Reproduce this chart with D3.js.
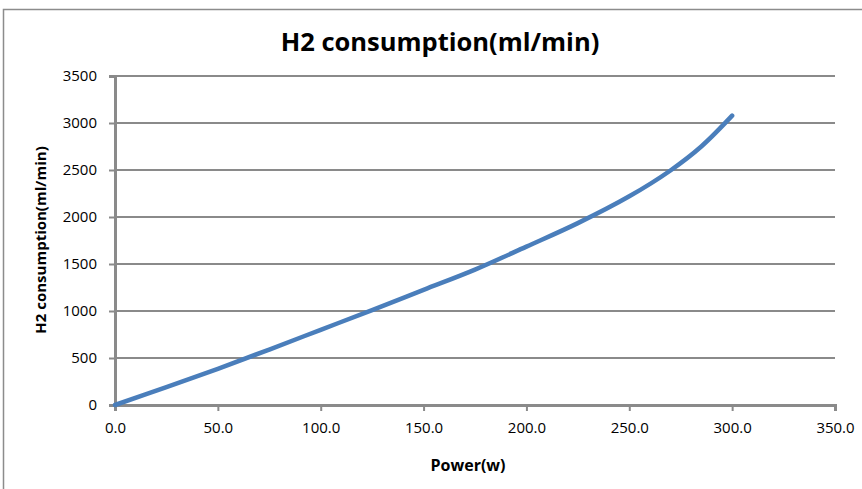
<!DOCTYPE html>
<html><head><meta charset="utf-8">
<script src="https://cdn.jsdelivr.net/npm/d3@7"></script>
<style>body{margin:0;background:#fff}svg{display:block}</style>
</head><body>
<script>
const powerW = [0, 25, 50, 75, 100, 125, 150, 175, 200, 225, 250, 270, 285, 300];
const h2Consumption = [0, 190, 385, 590, 800, 1010, 1225, 1440, 1685, 1935, 2220, 2495, 2750, 3078];
const xTicks = [0, 50, 100, 150, 200, 250, 300, 350];
const yTicks = [0, 500, 1000, 1500, 2000, 2500, 3000, 3500];
const titleText = "H2 consumption(ml/min)";
const xTitle = "Power(w)";
const yTitle = "H2 consumption(ml/min)";

const W = 862, H = 489;
const svg = d3.select("body").append("svg").attr("width", W).attr("height", H);
const font = "'Open Sans', sans-serif";

svg.append("rect").attr("x", 3.5).attr("y", 9.5).attr("width", 1000).attr("height", 1000)
  .attr("fill", "#fff").attr("stroke", "#8c8c8c").attr("stroke-width", 1.5);

const x = d3.scaleLinear().domain([0, 350]).range([115, 835]);
const y = d3.scaleLinear().domain([0, 3500]).range([405, 76]);

// gridlines
svg.append("g").selectAll("line").data(yTicks.filter(d => d > 0)).join("line")
  .attr("x1", x(0)).attr("x2", x(350)).attr("y1", d => y(d)).attr("y2", d => y(d))
  .attr("stroke", "#8a8a8a").attr("stroke-width", 2);

// y axis
const yAxis = svg.append("g").attr("transform", `translate(${x(0)},0)`)
  .call(d3.axisLeft(y).tickValues(yTicks).tickSize(6).tickPadding(12).tickFormat(d3.format("d")));
yAxis.select(".domain").attr("stroke", "#8a8a8a").attr("stroke-width", 3);
yAxis.selectAll(".tick line").attr("stroke", "#8a8a8a").attr("stroke-width", 2);
yAxis.selectAll("text").attr("font-family", font).attr("font-size", 15).attr("fill", "#000");

// x axis
const xAxis = svg.append("g").attr("transform", `translate(0,${y(0)})`)
  .call(d3.axisBottom(x).tickValues(xTicks).tickSize(6).tickPadding(11).tickFormat(d3.format(".1f")));
xAxis.select(".domain").attr("stroke", "#8a8a8a").attr("stroke-width", 3);
xAxis.selectAll(".tick line").attr("stroke", "#8a8a8a").attr("stroke-width", 2);
xAxis.selectAll("text").attr("font-family", font).attr("font-size", 15).attr("fill", "#000");

// line
const data = powerW.map((p, i) => [p, h2Consumption[i]]);
svg.append("path").datum(data)
  .attr("fill", "none").attr("stroke", "#4a7ebb").attr("stroke-width", 4.5)
  .attr("stroke-linecap", "round").attr("stroke-linejoin", "round")
  .attr("d", d3.line().x(d => x(d[0])).y(d => y(d[1])).curve(d3.curveCatmullRom));

// titles
svg.append("text").attr("x", 440).attr("y", 51).attr("text-anchor", "middle")
  .attr("font-family", font).attr("font-weight", "bold").attr("font-size", 25.5).text(titleText);
svg.append("text").attr("x", 468).attr("y", 471).attr("text-anchor", "middle")
  .attr("font-family", font).attr("font-weight", "bold").attr("font-size", 16).text(xTitle);
svg.append("text").attr("transform", "translate(46,240) rotate(-90)").attr("text-anchor", "middle")
  .attr("font-family", font).attr("font-weight", "bold").attr("font-size", 15).text(yTitle);
</script>
</body></html>
